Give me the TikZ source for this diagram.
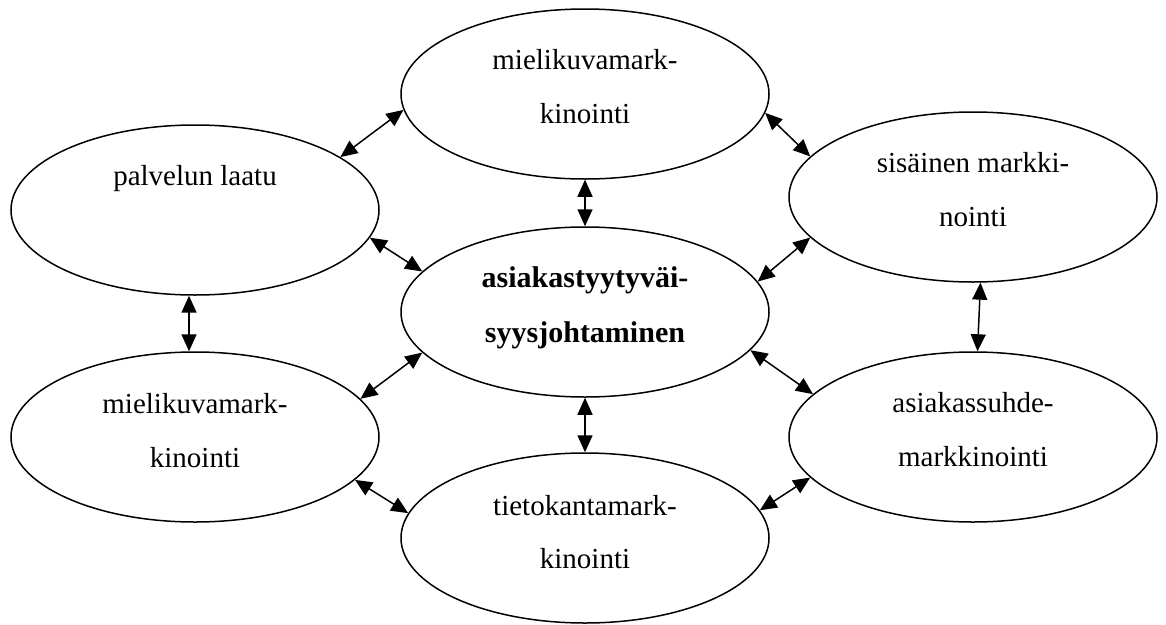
\documentclass[tikz,border=0pt]{standalone}
\usepackage{fontspec}
\setmainfont{Liberation Serif}
\usetikzlibrary{shapes.geometric,arrows.meta,calc}
\begin{document}
\begin{tikzpicture}[x=1pt,y=-1pt,
  oval/.style={draw,ellipse,line width=1.5pt,minimum width=368pt,minimum height=170pt,inner sep=0pt},
  lbl/.style={anchor=base,inner sep=0pt,font=\fontsize{29}{29}\selectfont},
  blbl/.style={anchor=base,inner sep=0pt,font=\fontsize{30}{30}\selectfont\bfseries},
  tipshape/.tip={Triangle[length=17pt,width=15pt]},
  link/.style={line width=1.5pt,tipshape-tipshape}]
\useasboundingbox (0,0) rectangle (1166,624);
% ellipses
\node[oval] (top) at (585,94) {};
\node[oval] (pal) at (195,210) {};
\node[oval] (ru)  at (973,197) {};
\node[oval] (ctr) at (585,312) {};
\node[oval] (ll)  at (195,437) {};
\node[oval] (rl)  at (973,437) {};
\node[oval] (bot) at (585,538) {};
% texts
\node[lbl] (topA) at ($(top.center)+(0,-25)$) {mielikuvamark-};
\node[lbl] (topB) at ($(top.center)+(0,29)$) {kinointi};
\node[lbl] (palA) at ($(pal.center)+(0,-25)$) {palvelun laatu};
\node[lbl] (ruA) at ($(ru.center)+(0,-25)$) {sisäinen markki-};
\node[lbl] (ruB) at ($(ru.center)+(0,29)$) {nointi};
\node[blbl] (ctrA) at ($(ctr.center)+(0,-25)$) {asiakastyytyväi-};
\node[blbl] (ctrB) at ($(ctr.center)+(0,30)$) {syysjohtaminen};
\node[lbl] (llA) at ($(ll.center)+(0,-24)$) {mielikuvamark-};
\node[lbl] (llB) at ($(ll.center)+(0,30)$) {kinointi};
\node[lbl] (rlA) at ($(rl.center)+(0,-25)$) {asiakassuhde-};
\node[lbl] (rlB) at ($(rl.center)+(0,29)$) {markkinointi};
\node[lbl] (botA) at ($(bot.center)+(0,-23)$) {tietokantamark-};
\node[lbl] (botB) at ($(bot.center)+(0,30)$) {kinointi};
% connectors
\draw[link] (pal.20) -- (top.185);
\draw[link] (top.-6) -- (ru.166);
\draw[link] (top.south) -- (ctr.north);
\draw[link] (pal.-9) -- (ctr.166);
\draw[link] (ctr.10) -- (ru.194);
\draw[link] (pal.266) -- (ll.94);
\draw[link] (ru.275) -- (rl.87);
\draw[link] (ctr.194) -- (ll.13);
\draw[link] (ctr.-13) -- (rl.165);
\draw[link] (ctr.south) -- (bot.north);
\draw[link] (ll.-15) -- (bot.172);
\draw[link] (rl.194) -- (bot.9);
\end{tikzpicture}
\end{document}
